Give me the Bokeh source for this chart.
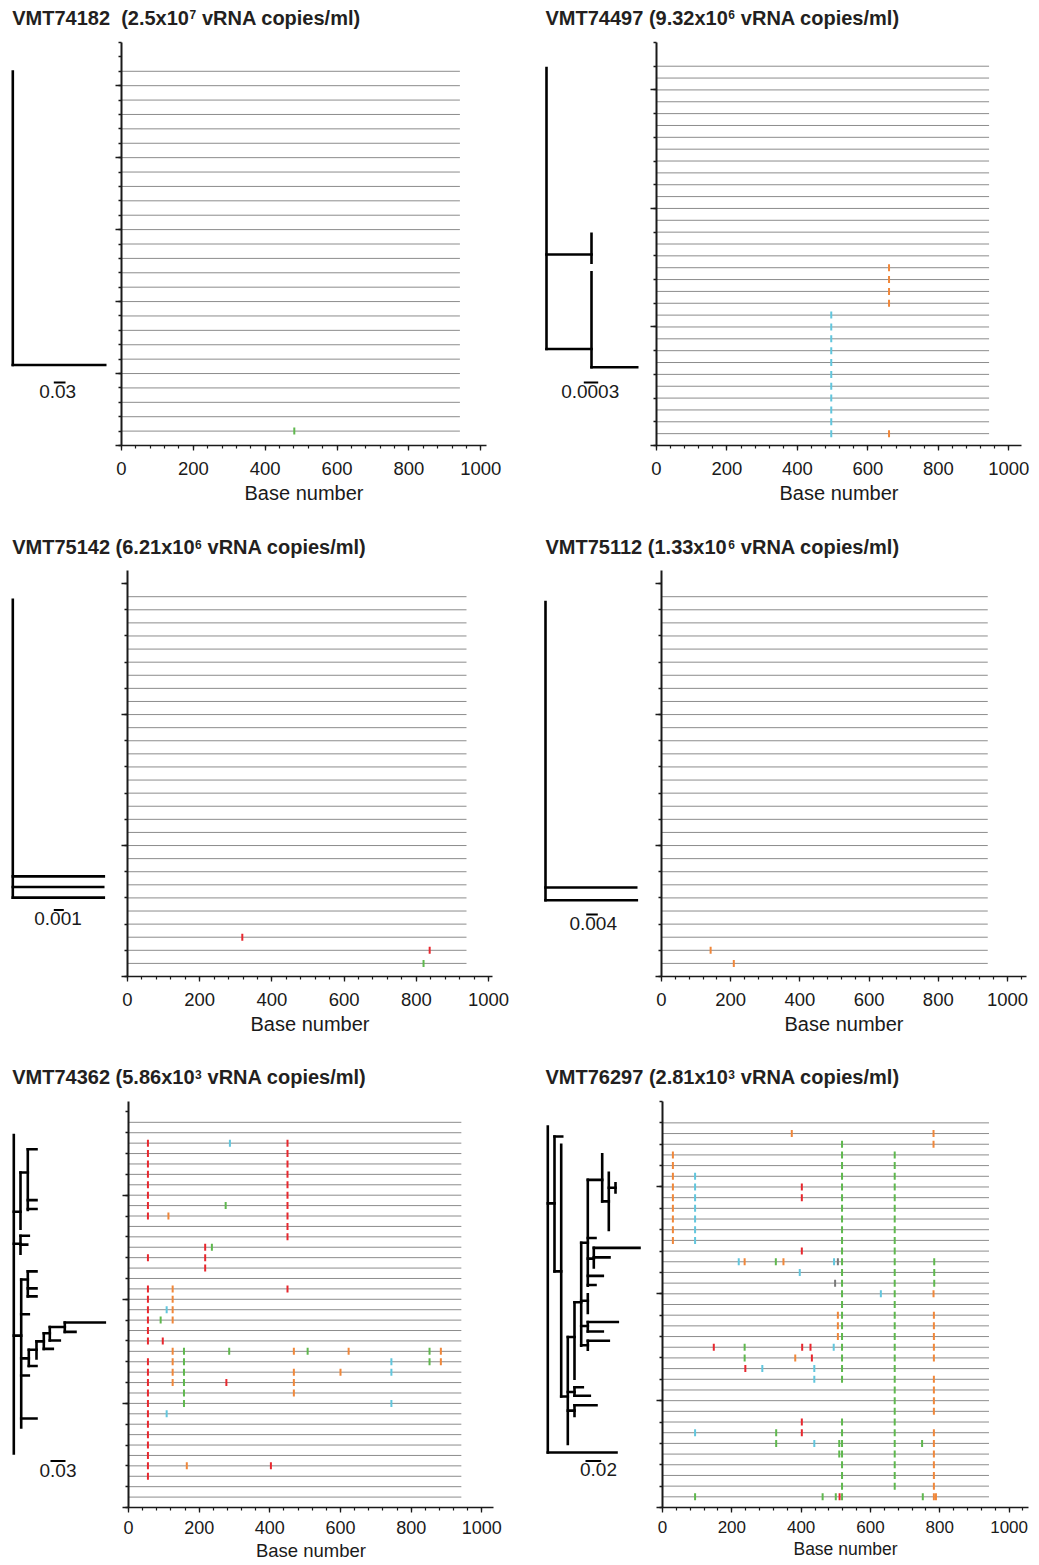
import numpy as np
from bokeh.plotting import figure
from bokeh.layouts import column, row
from bokeh.models import Range1d, FixedTicker, ColumnDataSource
from bokeh.core.properties import value
from bokeh.embed import file_html
from bokeh.resources import INLINE

# ----------------------------------------------------------------- data
TITLE_PRE = ["VMT74182\u00a0 (2.5x10", "VMT74497 (9.32x10", "VMT75142 (6.21x10",
             "VMT75112 (1.33x10", "VMT74362 (5.86x10", "VMT76297 (2.81x10"]
TITLE_EXP = ["7", "6", "6", "6", "3", "3"]
TITLE_POST = "vRNA copies/ml)"
N_SEQ = [26, 32, 29, 29, 37, 36]
SEQ_LEN = [942, 944, 939, 943, 942, 942]
Y_MAX = [28, 34, 31, 31, 39, 38]
X_MAX = [1016, 1036, 1011, 1055, 1033, 1056]
Y_MAJOR = [[0, 5, 10, 15, 20, 25], [0, 10, 20, 30], [0, 10, 20, 30],
           [0, 10, 20, 30], [0, 10, 20, 30], [0, 10, 20, 30]]
Y_MINOR_STEP = [1, 2, 2, 2, 2, 2]
Y_MINOR_TOP = [28, 34, 30, 30, 38, 38]
X_MAJOR = [0, 200, 400, 600, 800, 1000]
X_MINOR_STEP = 40
SCALE_LABELS = ["0.03", "0.0003", "0.001", "0.004", "0.03", "0.02"]

# mutations: (sequence line, base position, base)
MUT_1 = [(1, 481, "A")]
MUT_2 = [(11, 496, "C"), (10, 496, "C"), (9, 496, "C"), (8, 496, "C"), (7, 496, "C"),
         (6, 496, "C"), (5, 496, "C"), (4, 496, "C"), (3, 496, "C"), (2, 496, "C"),
         (1, 496, "C"), (15, 660, "G"), (14, 660, "G"), (13, 660, "G"), (12, 660, "G"),
         (1, 660, "G")]
MUT_3 = [(3, 318, "T"), (2, 837, "T"), (1, 820, "A")]
MUT_4 = [(2, 142, "G"), (1, 209, "G")]
MUT_5 = [
    (35, 55, "T"), (35, 287, "C"), (35, 450, "T"),
    (34, 55, "T"), (34, 450, "T"), (33, 55, "T"), (33, 450, "T"),
    (32, 55, "T"), (32, 450, "T"), (31, 55, "T"), (31, 450, "T"),
    (30, 55, "T"), (30, 450, "T"),
    (29, 55, "T"), (29, 275, "A"), (29, 450, "T"),
    (28, 55, "T"), (28, 113, "G"), (28, 450, "T"),
    (27, 450, "T"), (26, 450, "T"),
    (25, 217, "T"), (25, 236, "A"),
    (24, 55, "T"), (24, 217, "T"), (23, 217, "T"),
    (21, 55, "T"), (21, 125, "G"), (21, 450, "T"),
    (20, 55, "T"), (20, 125, "G"),
    (19, 55, "T"), (19, 108, "C"), (19, 125, "G"),
    (18, 55, "T"), (18, 91, "A"), (18, 125, "G"),
    (17, 55, "T"), (16, 55, "T"), (16, 97, "T"),
    (15, 125, "G"), (15, 157, "A"), (15, 285, "A"), (15, 468, "G"), (15, 507, "A"),
    (15, 623, "G"), (15, 852, "A"), (15, 884, "G"),
    (14, 55, "T"), (14, 125, "G"), (14, 157, "A"), (14, 744, "C"), (14, 852, "A"), (14, 884, "G"),
    (13, 55, "T"), (13, 125, "G"), (13, 157, "A"), (13, 468, "G"), (13, 600, "G"), (13, 744, "C"),
    (12, 55, "T"), (12, 125, "G"), (12, 157, "A"), (12, 277, "T"), (12, 468, "G"),
    (11, 55, "T"), (11, 157, "A"), (11, 468, "G"),
    (10, 55, "T"), (10, 157, "A"), (10, 744, "C"),
    (9, 55, "T"), (9, 108, "C"),
    (8, 55, "T"), (7, 55, "T"), (6, 55, "T"), (5, 55, "T"),
    (4, 55, "T"), (4, 165, "G"), (4, 403, "T"),
    (3, 55, "T"),
]
MUT_6 = [
    (35, 373, "G"), (35, 782, "G"),
    (34, 518, "A"), (34, 782, "G"),
    (33, 30, "G"), (33, 518, "A"), (33, 670, "A"),
    (32, 30, "G"), (32, 518, "A"), (32, 670, "A"),
    (31, 30, "G"), (31, 94, "C"), (31, 518, "A"), (31, 670, "A"),
    (30, 30, "G"), (30, 94, "C"), (30, 402, "T"), (30, 518, "A"), (30, 670, "A"),
    (29, 30, "G"), (29, 94, "C"), (29, 402, "T"), (29, 518, "A"), (29, 670, "A"),
    (28, 30, "G"), (28, 94, "C"), (28, 518, "A"), (28, 670, "A"),
    (27, 30, "G"), (27, 94, "C"), (27, 518, "A"), (27, 670, "A"),
    (26, 30, "G"), (26, 94, "C"), (26, 518, "A"), (26, 670, "A"),
    (25, 30, "G"), (25, 94, "C"), (25, 518, "A"), (25, 670, "A"),
    (24, 402, "T"), (24, 518, "A"), (24, 670, "A"),
    (23, 220, "C"), (23, 237, "G"), (23, 327, "A"), (23, 349, "G"), (23, 495, "C"),
    (23, 506, "-"), (23, 518, "A"), (23, 670, "A"), (23, 784, "A"),
    (22, 396, "C"), (22, 518, "A"), (22, 670, "A"), (22, 784, "A"),
    (21, 498, "-"), (21, 518, "A"), (21, 670, "A"), (21, 784, "A"),
    (20, 518, "A"), (20, 630, "C"), (20, 670, "A"), (20, 782, "G"),
    (19, 518, "A"), (19, 670, "A"),
    (18, 506, "G"), (18, 518, "A"), (18, 670, "A"), (18, 783, "G"),
    (17, 506, "G"), (17, 518, "A"), (17, 670, "A"), (17, 783, "G"),
    (16, 506, "G"), (16, 518, "A"), (16, 670, "A"), (16, 783, "G"),
    (15, 148, "T"), (15, 237, "A"), (15, 403, "T"), (15, 427, "T"), (15, 494, "C"),
    (15, 518, "A"), (15, 670, "A"), (15, 783, "G"),
    (14, 237, "A"), (14, 383, "G"), (14, 431, "T"), (14, 518, "A"), (14, 670, "A"), (14, 783, "G"),
    (13, 239, "T"), (13, 288, "C"), (13, 438, "C"), (13, 518, "A"), (13, 670, "A"),
    (12, 438, "C"), (12, 518, "A"), (12, 670, "A"), (12, 783, "G"),
    (11, 670, "A"), (11, 783, "G"), (10, 670, "A"), (10, 783, "G"),
    (9, 670, "A"), (9, 783, "G"),
    (8, 402, "T"), (8, 518, "A"), (8, 670, "A"),
    (7, 94, "C"), (7, 328, "A"), (7, 402, "T"), (7, 518, "A"), (7, 670, "A"), (7, 783, "G"),
    (6, 328, "A"), (6, 438, "C"), (6, 510, "A"), (6, 518, "A"), (6, 670, "A"), (6, 749, "A"),
    (6, 783, "G"),
    (5, 510, "A"), (5, 518, "A"), (5, 670, "A"), (5, 783, "G"),
    (4, 518, "A"), (4, 670, "A"), (4, 783, "G"),
    (3, 518, "A"), (3, 670, "A"), (3, 783, "G"),
    (2, 518, "A"), (2, 670, "A"), (2, 783, "G"),
    (1, 94, "A"), (1, 462, "A"), (1, 500, "A"), (1, 511, "T"), (1, 518, "A"),
    (1, 751, "A"), (1, 783, "G"), (1, 789, "G"),
]
MUTS = [MUT_1, MUT_2, MUT_3, MUT_4, MUT_5, MUT_6]

# trees: horizontal branches (line, x0, x1) and vertical connectors (x, line0, line1)
TREE_H_1 = [(1, 12.3, 104.7)]
TREE_V_1 = [(12.3, 26, 1)]
TREE_H_2 = [(12.85, 546, 591), (3.04, 546, 591), (1.15, 591, 636.7)]
TREE_V_2 = [(546, 32.2, 3.04), (591, 15.0, 12.0), (591, 11.0, 1.15)]
TREE_H_3 = [(3, 12.3, 103.3), (2, 12.3, 102.7), (1, 12.3, 103.3)]
TREE_V_3 = [(12.3, 29, 1)]
TREE_H_4 = [(1.96, 545, 635.7), (0.75, 545, 636.3)]
TREE_V_4 = [(545, 28.8, 0.75)]
TREE_H_5 = [
    (27.7, 13.3, 20), (32.1, 20, 27.3), (34.7, 27.3, 36), (29.0, 27.3, 36), (28.0, 27.3, 36),
    (24.1, 13.3, 20), (25.0, 20, 28.3), (24.0, 20, 26.7), (13.8, 13.3, 20.7),
    (20.1, 20.7, 27.3), (21.0, 27.3, 36), (19.1, 27.3, 36), (18.2, 27.3, 36),
    (16.2, 20.7, 28.3), (11.25, 20.7, 28.3), (10.39, 28.3, 36), (12.21, 28.3, 36),
    (13.16, 36, 43.3), (12.31, 43.3, 52.3), (14.06, 43.3, 49.3), (13.26, 49.3, 59.3),
    (14.77, 49.3, 64.3), (15.28, 64.3, 104.3), (14.22, 64.3, 75), (9.33, 20.7, 28.3),
    (4.5, 20.7, 36),
]
TREE_V_5 = [
    (13.3, 36.3, 0.6), (20, 32.1, 25.8), (27.3, 34.7, 27.9), (20, 25.0, 23.0),
    (20.7, 20.1, 3.5), (27.3, 21.0, 18.2), (28.3, 12.21, 10.39), (36, 13.16, 11.25),
    (43.3, 14.06, 12.31), (49.3, 14.77, 13.26), (64.3, 15.28, 14.22),
]
TREE_H_6 = [
    (0.68, 547.3, 616), (27.9, 547.3, 554), (35.2, 554, 561.7), (20.47, 554, 560.7),
    (6.8, 560.7, 567.3), (13.3, 567.3, 574), (17.1, 574, 580.7), (23.6, 580.7, 587.3),
    (30.46, 587.3, 601.7), (28.12, 601.7, 608.3), (29.6, 608.3, 615), (24.12, 587.3, 595),
    (23.03, 593.3, 639), (22.0, 593.3, 609), (21.86, 587.3, 593.3), (19.98, 587.3, 602.3),
    (18.98, 587.3, 595), (17.26, 580.7, 587.3), (14.94, 587.3, 617.3), (13.9, 587.3, 602.3),
    (14.5, 580.7, 587.3), (12.88, 587.3, 608.3), (12.4, 580.7, 587.3),
    (7.28, 567.3, 574), (7.81, 574, 582.3), (6.87, 574, 589.3),
    (5.25, 567.3, 574), (5.84, 574, 596),
]
TREE_V_6 = [
    (547.3, 36.3, 0.68), (554, 35.2, 20.47), (560.7, 34.3, 6.8), (567.3, 13.3, 1.6),
    (574, 17.1, 8.75), (580.7, 23.6, 12.34), (587.3, 30.46, 18.9), (601.7, 33.27, 28.12),
    (608.3, 31.24, 25.0), (615, 30.1, 29.1), (593.3, 23.03, 20.9), (587.3, 17.96, 15.93),
    (587.3, 14.94, 13.9), (587.3, 12.88, 11.9), (574, 7.81, 6.87), (574, 5.84, 4.68),
]
TREES_H = [TREE_H_1, TREE_H_2, TREE_H_3, TREE_H_4, TREE_H_5, TREE_H_6]
TREES_V = [TREE_V_1, TREE_V_2, TREE_V_3, TREE_V_4, TREE_V_5, TREE_V_6]

BASE_COLORS = {"A": "#5fb84e", "C": "#62c6dd", "G": "#f0873a", "T": "#e8282f", "-": "#7a7a7a"}

# ----------------------------------------------------------------- layout / style
FONT = "Liberation Sans"
TITLE_FS = 20.0
SUP_FS = 12.0
# advance widths (1/1000 em) of Liberation Sans Bold (Arial-compatible metrics)
BOLD_W = {" ": 278, "\u00a0": 278, "(": 333, ")": 333, ".": 278, "/": 278, "x": 556,
          "V": 667, "M": 833, "T": 611, "v": 556, "R": 722, "N": 722, "A": 722, "c": 556,
          "o": 611, "p": 611, "i": 278, "e": 556, "s": 556, "m": 889, "l": 278}
TITLE_H = [32, 30, 30]
TITLE_TOPS = [0, 530, 1060]
TITLE_X = [11.7, 545, 11.7, 545, 11.7, 545]
TITLE_MID = [17.0, 17.0, 546.7, 546.7, 1076.7, 1076.7]
GEOM = [
    dict(tree_left=0, tree_w=109, hl_w=411, fw=365, mbt=7, fh=406, mbb=85, bref=445,
         sb=(53.3, 65, 452.3), sbt=(57.2, 462.7), tfs="18.5px", lfs="20px", std=11, lstd=4),
    dict(tree_left=520, tree_w=124, hl_w=395, fw=365, mbt=10, fh=405, mbb=83, bref=447.3,
         sb=(583.3, 597.7, 452.3), sbt=(589.7, 464), tfs="18.5px", lfs="20px", std=11, lstd=4),
    dict(tree_left=0, tree_w=115, hl_w=405, fw=365, mbt=10, fh=406, mbb=84, bref=975.7,
         sb=(53.3, 63.3, 977.7), sbt=(57.5, 988.3), tfs="18.5px", lfs="20px", std=11, lstd=4),
    dict(tree_left=520, tree_w=129, hl_w=390, fw=365, mbt=10, fh=406, mbb=84, bref=975.7,
         sb=(585.7, 597.3, 983.3), sbt=(592.7, 995), tfs="18.5px", lfs="20px", std=11, lstd=4),
    dict(tree_left=0, tree_w=116, hl_w=404, fw=365, mbt=11, fh=406, mbb=57, bref=1506.7,
         sb=(50, 65, 1509.3), sbt=(57.5, 1520), tfs="18px", lfs="18.5px", std=8, lstd=3),
    dict(tree_left=520, tree_w=130, hl_w=389, fw=366, mbt=11, fh=406, mbb=57, bref=1506.7,
         sb=(585, 600.7, 1509.3), sbt=(598, 1519), tfs="17px", lfs="17.5px", std=8, lstd=3),
]


def text_width(s, fs):
    return sum(BOLD_W.get(ch, 556) for ch in s) / 1000.0 * fs


def make_panel(i):
    g = GEOM[i]
    H = g["mbt"] + g["fh"] + g["mbb"]
    s = g["fh"] / Y_MAX[i]

    # ---- highlighter plot
    hl = figure(width=g["hl_w"], height=H, x_range=Range1d(0, X_MAX[i]),
                y_range=Range1d(0, Y_MAX[i]), title=None, toolbar_location=None,
                output_backend="svg", min_border_left=12,
                min_border_right=g["hl_w"] - 12 - g["fw"], min_border_top=g["mbt"],
                min_border_bottom=g["mbb"], outline_line_color=None,
                background_fill_color="white", border_fill_color="white")
    hl.grid.visible = False
    lines = list(range(1, N_SEQ[i] + 1))
    hl.segment(x0=[0] * len(lines), x1=[SEQ_LEN[i]] * len(lines), y0=lines, y1=lines,
               line_color="#8c8c8c", line_width=1)
    m = MUTS[i]
    src = ColumnDataSource(dict(y=[t[0] for t in m], x=[t[1] for t in m],
                                c=[BASE_COLORS[t[2]] for t in m]))
    hl.scatter(x="x", y="y", source=src, marker="dash", angle=np.pi / 2, size=7,
               line_color="c", line_width=2)

    xa = hl.xaxis[0]
    xa.ticker = FixedTicker(ticks=X_MAJOR,
                            minor_ticks=list(range(0, X_MAX[i] + 1, X_MINOR_STEP)))
    xa.axis_label = "Base number"
    xa.axis_label_text_font = FONT
    xa.axis_label_text_font_style = "normal"
    xa.axis_label_text_font_size = g["lfs"]
    xa.axis_label_text_color = "#1a1a1a"
    xa.axis_label_standoff = g["lstd"]
    xa.major_label_text_font = FONT
    xa.major_label_text_font_size = g["tfs"]
    xa.major_label_text_color = "#1a1a1a"
    xa.major_label_standoff = g["std"]
    xa.major_tick_out = 5
    xa.major_tick_in = 0
    xa.minor_tick_out = 3
    xa.minor_tick_in = 0
    xa.axis_line_width = 1.5
    xa.axis_line_color = "#1a1a1a"
    xa.major_tick_line_color = "#1a1a1a"
    xa.minor_tick_line_color = "#1a1a1a"
    xa.major_tick_line_width = 1.3
    xa.minor_tick_line_width = 1.2

    ya = hl.yaxis[0]
    ya.ticker = FixedTicker(ticks=Y_MAJOR[i],
                            minor_ticks=list(range(0, Y_MINOR_TOP[i] + 1, Y_MINOR_STEP[i])))
    ya.major_label_text_color = None
    ya.major_label_text_font_size = "1px"
    ya.major_label_standoff = 0
    ya.major_tick_out = 6
    ya.major_tick_in = 0
    ya.minor_tick_out = 3
    ya.minor_tick_in = 0
    ya.axis_line_width = 2
    ya.axis_line_color = "#1a1a1a"
    ya.major_tick_line_color = "#1a1a1a"
    ya.minor_tick_line_color = "#1a1a1a"
    ya.major_tick_line_width = 1.5
    ya.minor_tick_line_width = 1.3

    # ---- tree
    tr = figure(width=g["tree_w"], height=H,
                x_range=Range1d(g["tree_left"], g["tree_left"] + g["tree_w"]),
                y_range=Range1d(-g["mbb"] / s, Y_MAX[i] + g["mbt"] / s),
                x_axis_type=None, y_axis_type=None, title=None, toolbar_location=None,
                output_backend="svg", min_border=0, outline_line_color=None,
                background_fill_color="white", border_fill_color="white")
    th = TREES_H[i]
    tv = TREES_V[i]
    tr.segment(x0=[t[1] for t in th], x1=[t[2] for t in th], y0=[t[0] for t in th],
               y1=[t[0] for t in th], line_color="black", line_width=2.6, line_cap="square")
    tr.segment(x0=[t[0] for t in tv], x1=[t[0] for t in tv], y0=[t[1] for t in tv],
               y1=[t[2] for t in tv], line_color="black", line_width=2.6, line_cap="square")
    # scale bar
    sx0, sx1, sy = g["sb"]
    ky = -(sy - g["bref"]) / s
    tr.segment(x0=[sx0], x1=[sx1], y0=[ky], y1=[ky], line_color="black", line_width=2)
    tx, ty = g["sbt"]
    tr.text(x=[tx], y=[-(ty - g["bref"]) / s], text=[SCALE_LABELS[i]],
            text_font=value(FONT), text_font_size="19px", text_color="#1a1a1a",
            text_align="center", text_baseline="middle")
    return tr, hl


def make_title(r):
    h = TITLE_H[r]
    p = figure(width=1039, height=h, x_range=Range1d(0, 1039), y_range=Range1d(h, 0),
               x_axis_type=None, y_axis_type=None, title=None, toolbar_location=None,
               output_backend="svg", min_border=0, outline_line_color=None,
               background_fill_color="white", border_fill_color="white")
    idx = [2 * r, 2 * r + 1]
    mid = [TITLE_MID[j] - TITLE_TOPS[r] for j in idx]
    x_pre = [TITLE_X[j] for j in idx]
    x_sup = [TITLE_X[j] + text_width(TITLE_PRE[j], TITLE_FS) + 0.5 for j in idx]
    x_post = [x_sup[k] + 0.556 * SUP_FS + 0.278 * TITLE_FS + 0.3 for k in range(2)]
    common = dict(text_font=value(FONT), text_font_style="bold", text_color="#231f20",
                  text_align="left", text_baseline="middle")
    p.text(x=x_pre, y=mid, text=[TITLE_PRE[j] for j in idx],
           text_font_size=f"{TITLE_FS}px", **common)
    p.text(x=x_sup, y=[v - 3.0 for v in mid], text=[TITLE_EXP[j] for j in idx],
           text_font_size=f"{SUP_FS}px", **common)
    p.text(x=x_post, y=mid, text=[TITLE_POST, TITLE_POST],
           text_font_size=f"{TITLE_FS}px", **common)
    return p


children = []
for r in range(3):
    children.append(make_title(r))
    tl, hlft = make_panel(2 * r)
    trr, hrgt = make_panel(2 * r + 1)
    children.append(row(tl, hlft, trr, hrgt, spacing=0))

layout = column(*children, spacing=0)
open("out.html", "w").write(file_html(layout, INLINE))
